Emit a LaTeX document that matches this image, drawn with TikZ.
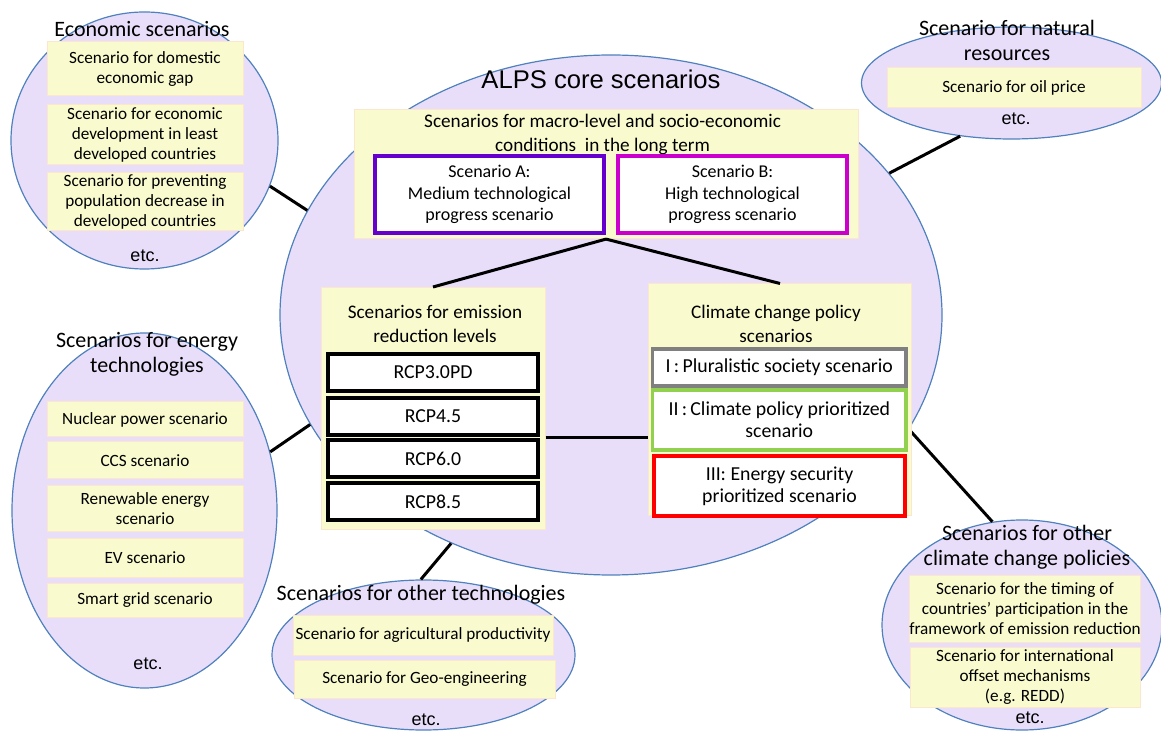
\documentclass[tikz,border=0pt]{standalone}
\usepackage{fontspec}
\setmainfont{Carlito}
\newfontfamily\arialfont{Liberation Sans}
\usepackage{tikz}
\usetikzlibrary{shapes.geometric}
\definecolor{ovalfill}{RGB}{232,222,250}
\definecolor{ovaldraw}{RGB}{79,129,189}
\definecolor{yfill}{RGB}{249,251,207}
\definecolor{ydraw}{RGB}{252,230,205}
\definecolor{scA}{RGB}{102,0,204}
\definecolor{scB}{RGB}{204,0,204}
\definecolor{pgray}{RGB}{128,128,128}
\definecolor{pgreen}{RGB}{146,208,80}

\begin{document}
\begin{tikzpicture}[
    x=0.5pt,y=-0.5pt,
    oval/.style={ellipse,draw=ovaldraw,line width=0.6pt,fill=ovalfill,inner sep=0pt},
    ybox/.style={draw=ydraw,line width=0.5pt,fill=yfill,align=center,inner sep=0pt,font=\fontsize{8.6}{10}\selectfont},
    wbox/.style={draw,line width=2pt,fill=white,align=center,inner sep=0pt,font=\fontsize{9}{10.8}\selectfont},
    pbox/.style={wbox,font=\fontsize{9.9}{11.2}\selectfont},
    ttl/.style={align=center,inner sep=0pt,font=\fontsize{11}{12.5}\selectfont},
    cttl/.style={align=center,inner sep=0pt,font=\fontsize{9.6}{11.6}\selectfont},
    etc/.style={inner sep=0pt,font=\arialfont\fontsize{9}{10}\selectfont},
    conn/.style={line width=1.5pt}
  ]
    \useasboundingbox (0,0) rectangle (1161,731);

    \node[oval,minimum width=331pt,minimum height=260pt] (core) at (611,315) {};
    \node[oval,minimum width=133.5pt,minimum height=128.5pt] (econ) at (144.5,140.5) {};
    \node[oval,minimum width=150pt,minimum height=56pt] (natres) at (1011.5,83) {};
    \node[oval,minimum width=132.5pt,minimum height=177.5pt] (energy) at (144.5,510.5) {};
    \node[oval,minimum width=151.5pt,minimum height=75pt] (othtech) at (423.5,655) {};
    \node[oval,minimum width=140pt,minimum height=105pt] (othpol) at (1022,625) {};

    \draw[conn] (econ.-20) -- (core.161);
    \draw[conn] (core.27) -- (natres.-134);
    \draw[conn] (energy.25) -- (core.200.7);
    \draw[conn] (othtech.92.6) -- (core.235.4);
    \draw[conn] (core.-21.7) -- (othpol.106);

    \node[inner sep=0pt,font=\arialfont\fontsize{12.8}{14}\selectfont] (alps) at (601,79) {ALPS core scenarios};

    \node[ybox,minimum width=252pt,minimum height=64.3pt] (macro) at (606,174.3) {};
    \node[cttl] (macrot) at (602.6,134.5) {Scenarios for macro-level and socio-economic\\conditions\ \ in the long term};
    \node[wbox,draw=scA,minimum width=114.5pt,minimum height=38.5pt] (scenA) at (489.5,194.5) {Scenario A:\\Medium technological\\progress scenario};
    \node[wbox,draw=scB,minimum width=114.5pt,minimum height=38.5pt] (scenB) at (732.5,194.5) {Scenario B:\\High technological\\progress scenario};

    \node[ybox,minimum width=112pt,minimum height=121.25pt] (emis) at (433,408.75) {};
    \node[cttl] (emist) at (435,324) {Scenarios for emission\\reduction levels};
    \node[pbox,minimum width=105pt,minimum height=18.5pt] (rcpa) at (433,372.5) {RCP3.0PD};
    \node[pbox,minimum width=105pt,minimum height=18.5pt] (rcpb) at (433,416.5) {RCP4.5};
    \node[pbox,minimum width=105pt,minimum height=18.5pt] (rcpc) at (433,459) {RCP6.0};
    \node[pbox,minimum width=105pt,minimum height=18.5pt] (rcpd) at (433,501.5) {RCP8.5};

    \node[ybox,minimum width=131.5pt,minimum height=116pt] (clim) at (780,400) {};
    \node[cttl] (climt) at (776,324) {Climate change policy\\scenarios};
    \node[pbox,draw=pgray,line width=1.8pt,minimum width=126.7pt,minimum height=18.35pt] (polI) at (779.3,367.4) {I\,:\,Pluralistic society scenario};
    \node[pbox,draw=pgreen,line width=1.8pt,minimum width=126.7pt,minimum height=30pt] (polII) at (779.3,420) {II\,:\,Climate policy prioritized\\scenario};
    \node[pbox,draw=red,minimum width=125.5pt,minimum height=30pt] (polIII) at (779.5,486) {III: Energy security\\prioritized scenario};

    \coordinate (gap) at (596,438);
    \draw[conn] (macro.south) -- (emis.north);
    \draw[conn] (macro.south) -- (clim.north);
    \draw[conn] (emis.east |- gap) -- (clim.west |- gap);

    \node[ttl] (econt) at (142,29) {Economic scenarios};
    \node[ybox,minimum width=98pt,minimum height=27pt] (eca) at (145,69) {Scenario for domestic\\economic gap};
    \node[ybox,minimum width=98pt,minimum height=30pt] (ecb) at (145,135) {Scenario for economic\\development in least\\developed countries};
    \node[ybox,minimum width=98pt,minimum height=29.25pt] (ecc) at (145,201.75) {Scenario for preventing\\population decrease in\\developed countries};
    \node[etc] (ecetc) at (145,256) {etc.};

    \node[ttl] (natrest) at (1007,40) {Scenario for natural\\resources};
    \node[ybox,minimum width=127pt,minimum height=20pt] (oil) at (1014,88) {Scenario for oil price};
    \node[etc] (natetc) at (1016,119) {etc.};

    \node[ttl] (energyt) at (147,354.5) {Scenarios for energy\\technologies};
    \node[ybox,minimum width=98pt,minimum height=17.5pt] (ena) at (145,419.5) {Nuclear power scenario};
    \node[ybox,minimum width=98pt,minimum height=18.5pt] (enb) at (145,460.5) {CCS scenario};
    \node[ybox,minimum width=98pt,minimum height=23pt] (enc) at (145,509) {Renewable energy\\scenario};
    \node[ybox,minimum width=98pt,minimum height=19.5pt] (end) at (145,557.5) {EV scenario};
    \node[ybox,minimum width=98pt,minimum height=17pt] (ene) at (145,600) {Smart grid scenario};
    \node[etc] (enetc) at (148,664) {etc.};

    \node[ttl] (othtecht) at (421,595) {Scenarios for other technologies};
    \node[ybox,minimum width=130pt,minimum height=20pt] (agri) at (423,635) {Scenario for agricultural productivity};
    \node[ybox,minimum width=130.5pt,minimum height=19pt] (geo) at (424.5,679) {Scenario for Geo-engineering};
    \node[etc] (techetc) at (426,720) {etc.};

    \node[ttl] (othpolt) at (1027,547.5) {Scenarios for other\\climate change policies};
    \node[ybox,minimum width=115pt,minimum height=33.5pt] (timing) at (1025,608.5) {Scenario for the timing of\\countries’ participation in the\\framework of emission reduction};
    \node[ybox,minimum width=115pt,minimum height=30pt] (offset) at (1025,677) {Scenario for international\\offset mechanisms\\(e.g. REDD)};
    \node[etc] (poletc) at (1030,718) {etc.};
  \end{tikzpicture}
\end{document}
